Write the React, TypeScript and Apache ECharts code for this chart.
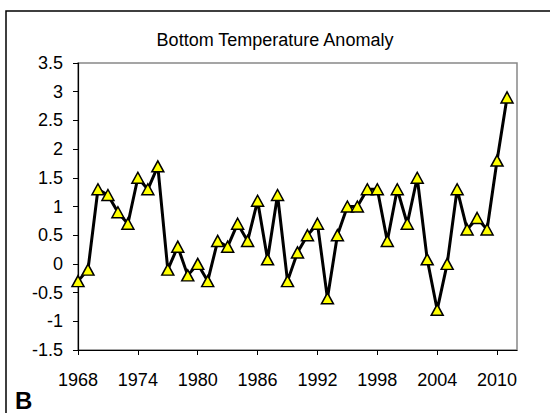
import React, { useEffect, useRef } from "react";
import * as echarts from "echarts";

const years: string[] = [];
for (let y = 1968; y <= 2012; y++) years.push(String(y));

const anomaly: (number | null)[] = [
  -0.3, -0.1, 1.3, 1.2, 0.9, 0.7, 1.5, 1.3, 1.7, -0.1,
  0.3, -0.2, 0.0, -0.3, 0.4, 0.3, 0.7, 0.4, 1.1, 0.08,
  1.2, -0.3, 0.2, 0.5, 0.7, -0.6, 0.5, 1.0, 1.0, 1.3,
  1.3, 0.4, 1.3, 0.7, 1.5, 0.08, -0.8, 0.0, 1.3, 0.6,
  0.8, 0.6, 1.8, 2.9, null,
];

const titleText = "Bottom Temperature Anomaly";
const panelLabel = "B";

export default function App() {
  const ref = useRef<HTMLDivElement>(null);
  useEffect(() => {
    if (!ref.current) return;
    const chart = echarts.init(ref.current, undefined, { renderer: "svg" });
    const font = "'Liberation Sans', Arial, sans-serif";
    chart.setOption({
      animation: false,
      backgroundColor: "#ffffff",
      textStyle: { fontFamily: font },
      title: {
        text: titleText,
        left: 270,
        textAlign: "center",
        top: 26,
        textStyle: { fontSize: 18, fontWeight: "normal", color: "#000", fontFamily: font },
      },
      graphic: [
        {
          type: "rect",
          shape: { x: 6, y: 11, width: 700, height: 600 },
          style: { fill: "none", stroke: "#000", lineWidth: 1.5 },
          z: 100,
        },
        {
          type: "text",
          left: 15,
          top: 388,
          style: { text: panelLabel, fontSize: 24, fontWeight: "bold", fill: "#000", fontFamily: font },
          z: 100,
        },
      ],
      grid: { left: 78, top: 63, right: 33, bottom: 63, show: true, borderColor: "#888", borderWidth: 1.5, backgroundColor: "transparent" },
      xAxis: {
        type: "category",
        data: years,
        boundaryGap: false,
        axisLine: { onZero: false, lineStyle: { color: "#000", width: 1.2 } },
        axisTick: { interval: 5, length: 5, lineStyle: { color: "#000" } },
        axisLabel: { interval: 5, fontSize: 18, color: "#000", margin: 21, fontFamily: font },
        splitLine: { show: false },
      },
      yAxis: {
        type: "value",
        min: -1.5,
        max: 3.5,
        interval: 0.5,
        axisLine: { show: true, onZero: false, lineStyle: { color: "#000", width: 1.2 } },
        axisTick: { show: true, length: 5, lineStyle: { color: "#000" } },
        axisLabel: { fontSize: 18, color: "#000", margin: 15, fontFamily: font },
        splitLine: { show: false },
      },
      series: [
        {
          type: "line",
          data: anomaly,
          symbol: "triangle",
          symbolSize: [12, 11],
          showAllSymbol: true,
          lineStyle: { color: "#000", width: 3 },
          itemStyle: { color: "#ffff00", borderColor: "#000", borderWidth: 1.5 },
          connectNulls: false,
        },
      ],
    });
    return () => chart.dispose();
  }, []);
  return <div ref={ref} style={{ width: 550, height: 413, position: "absolute", left: 0, top: 0 }} />;
}
